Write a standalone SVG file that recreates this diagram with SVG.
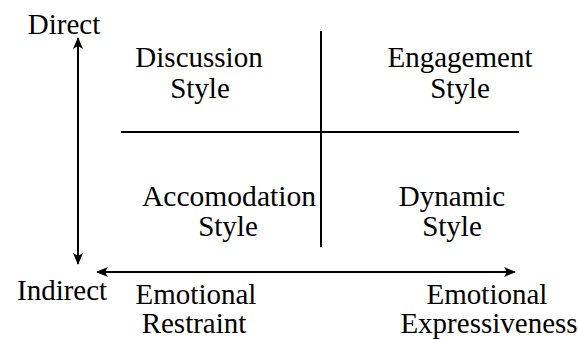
<svg xmlns="http://www.w3.org/2000/svg" width="578" height="339" viewBox="0 0 578 339">
<style>
.t{font-family:'Liberation Serif','Times New Roman',serif;font-size:29px;fill:#000}
.m{text-anchor:middle}
.ln{stroke:#000;stroke-width:2;fill:none}
</style>
<defs>
<marker id="ah" viewBox="0 0 12 10" refX="11" refY="5" markerWidth="12" markerHeight="10" markerUnits="userSpaceOnUse" orient="auto-start-reverse">
<path d="M0,0 L12,5 L0,10 L3,5 Z" fill="#000"/>
</marker>
</defs>
<rect width="578" height="339" fill="#fff"/>
<g id="connectors">
<line class="ln" x1="78" y1="38" x2="78" y2="264" marker-start="url(#ah)" marker-end="url(#ah)"/>
<line class="ln" x1="97" y1="272" x2="515" y2="272" marker-start="url(#ah)" marker-end="url(#ah)"/>
<line class="ln" x1="121" y1="132" x2="519" y2="132"/>
<line class="ln" x1="321" y1="31" x2="321" y2="247"/>
</g>
<g id="direct"><text x="64" y="34" class="t m">Direct</text></g>
<g id="indirect"><text x="17" y="300" class="t">Indirect</text></g>
<g id="discussion"><text class="t m" x="199" y="67">Discussion</text><text class="t m" x="200" y="98">Style</text></g>
<g id="engagement"><text class="t m" x="460" y="67">Engagement</text><text class="t m" x="460" y="98">Style</text></g>
<g id="accomodation"><text class="t m" x="229" y="206" textLength="174" lengthAdjust="spacingAndGlyphs">Accomodation</text><text class="t m" x="228" y="236">Style</text></g>
<g id="dynamic"><text class="t m" x="452" y="206">Dynamic</text><text class="t m" x="452" y="236">Style</text></g>
<g id="restraint"><text class="t m" x="196" y="304">Emotional</text><text class="t m" x="194" y="333">Restraint</text></g>
<g id="expressiveness"><text class="t m" x="487" y="304">Emotional</text><text class="t m" x="489" y="333">Expressiveness</text></g>
</svg>
